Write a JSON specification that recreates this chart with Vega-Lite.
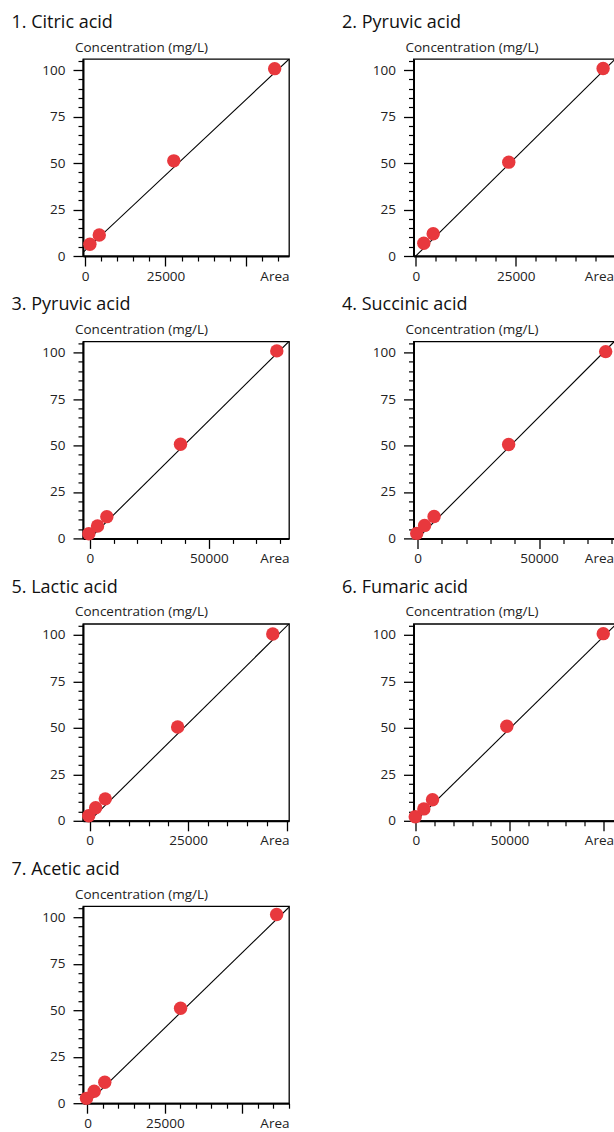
{
  "$schema": "https://vega.github.io/schema/vega-lite/v6.json",
  "padding": {"left": 10, "top": 13, "right": 0, "bottom": 0},
  "background": "white",
  "data": {"values": [
    {"panel": 1, "kind": "std", "area": 1490, "conc": 6.3},
    {"panel": 1, "kind": "std", "area": 4410, "conc": 11.3},
    {"panel": 1, "kind": "std", "area": 27580, "conc": 51.2},
    {"panel": 1, "kind": "std", "area": 58940, "conc": 100.8},
    {"panel": 1, "kind": "fit", "area": -650, "conc": 1.9},
    {"panel": 1, "kind": "fit", "area": 63400, "conc": 105.9},
    {"panel": 2, "kind": "std", "area": 2000, "conc": 6.9},
    {"panel": 2, "kind": "std", "area": 4350, "conc": 12.0},
    {"panel": 2, "kind": "std", "area": 23250, "conc": 50.5},
    {"panel": 2, "kind": "std", "area": 46850, "conc": 100.9},
    {"panel": 2, "kind": "fit", "area": -575, "conc": -1.2},
    {"panel": 2, "kind": "fit", "area": 49700, "conc": 105.6},
    {"panel": 3, "kind": "std", "area": -420, "conc": 2.5},
    {"panel": 3, "kind": "std", "area": 3240, "conc": 6.7},
    {"panel": 3, "kind": "std", "area": 7140, "conc": 11.7},
    {"panel": 3, "kind": "std", "area": 38110, "conc": 50.7},
    {"panel": 3, "kind": "std", "area": 78570, "conc": 100.9},
    {"panel": 3, "kind": "fit", "area": -2870, "conc": -3.6},
    {"panel": 3, "kind": "fit", "area": 83700, "conc": 106},
    {"panel": 4, "kind": "std", "area": -320, "conc": 2.7},
    {"panel": 4, "kind": "std", "area": 2920, "conc": 7.0},
    {"panel": 4, "kind": "std", "area": 6820, "conc": 11.8},
    {"panel": 4, "kind": "std", "area": 37500, "conc": 50.5},
    {"panel": 4, "kind": "std", "area": 77440, "conc": 100.5},
    {"panel": 4, "kind": "fit", "area": -1650, "conc": -2.2},
    {"panel": 4, "kind": "fit", "area": 81070, "conc": 106},
    {"panel": 5, "kind": "std", "area": -200, "conc": 2.7},
    {"panel": 5, "kind": "std", "area": 1560, "conc": 7.0},
    {"panel": 5, "kind": "std", "area": 4000, "conc": 11.8},
    {"panel": 5, "kind": "std", "area": 22360, "conc": 50.5},
    {"panel": 5, "kind": "std", "area": 46480, "conc": 100.5},
    {"panel": 5, "kind": "fit", "area": -1650, "conc": -3.5},
    {"panel": 5, "kind": "fit", "area": 50600, "conc": 106},
    {"panel": 6, "kind": "std", "area": -300, "conc": 2.2},
    {"panel": 6, "kind": "std", "area": 4270, "conc": 6.4},
    {"panel": 6, "kind": "std", "area": 8910, "conc": 11.3},
    {"panel": 6, "kind": "std", "area": 48560, "conc": 50.9},
    {"panel": 6, "kind": "std", "area": 100000, "conc": 100.7},
    {"panel": 6, "kind": "fit", "area": -1230, "conc": -1.2},
    {"panel": 6, "kind": "fit", "area": 106000, "conc": 105},
    {"panel": 7, "kind": "std", "area": -320, "conc": 2.6},
    {"panel": 7, "kind": "std", "area": 2170, "conc": 6.4},
    {"panel": 7, "kind": "std", "area": 5590, "conc": 11.3},
    {"panel": 7, "kind": "std", "area": 30070, "conc": 51.1},
    {"panel": 7, "kind": "std", "area": 61100, "conc": 101.5},
    {"panel": 7, "kind": "fit", "area": -1450, "conc": -2.3},
    {"panel": 7, "kind": "fit", "area": 65100, "conc": 105.5}
  ]},
  "columns": 2,
  "spacing": {"column": 124.5, "row": 85.4},
  "bounds": "flush",
  "concat": [
    {
      "width": 206, "height": 197,
      "title": {"text": "1. Citric acid", "anchor": "start", "frame": "group", "dx": -71.5, "dy": -4},
      "transform": [{"filter": "datum.panel == 1"}],
      "layer": [
        {"transform": [{"filter": "datum.kind == 'fit'"}],
         "mark": {"type": "line", "clip": true, "color": "#000", "strokeWidth": 1.1},
         "encoding": {
           "x": {"field": "area", "type": "quantitative", "scale": {"domain": [-650, 63400], "nice": false, "zero": false},
                 "axis": {"orient": "bottom", "values": [0, 25000, 50000], "labelExpr": "datum.value >= 50000 ? '' : datum.label", "format": "d", "tickSize": 10, "tickWidth": 1.3, "domainWidth": 2, "labelPadding": 14, "labelBaseline": "alphabetic", "labelFlush": false, "labelOverlap": false, "title": "Area", "titleAngle": 0, "titleX": 206, "titleY": 24, "titleAlign": "right", "titleBaseline": "alphabetic"}},
           "y": {"field": "conc", "type": "quantitative", "scale": {"domain": [0, 106], "nice": false, "zero": false},
                 "axis": {"orient": "left", "values": [0, 25, 50, 75, 100], "tickSize": 10, "tickWidth": 1.3, "domainWidth": 2, "labelPadding": 8, "labelBaseline": "middle", "title": "Concentration (mg/L)", "titleAngle": 0, "titleAlign": "left", "titleBaseline": "alphabetic", "titleX": -8.5, "titleY": -8}}
         }},
        {"transform": [{"filter": "datum.kind == 'std'"}],
         "mark": {"type": "circle", "size": 180, "color": "#e8383d", "opacity": 1},
         "encoding": {
           "x": {"field": "area", "type": "quantitative", "axis": {"orient": "bottom", "values": [5000, 10000, 15000, 20000, 30000, 35000, 40000, 45000, 55000, 60000], "tickSize": 5, "tickWidth": 1.2, "labels": false, "domain": false, "title": null}},
           "y": {"field": "conc", "type": "quantitative", "axis": {"orient": "left", "values": [5, 10, 15, 20, 30, 35, 40, 45, 55, 60, 65, 70, 80, 85, 90, 95, 105], "tickSize": 5, "tickWidth": 1.2, "labels": false, "domain": false, "title": null}}
         }}
      ],
      "resolve": {"axis": {"x": "independent", "y": "independent"}}
    },
    {
      "width": 201, "height": 197,
      "title": {"text": "2. Pyruvic acid", "anchor": "start", "frame": "group", "dx": -71.5, "dy": -4},
      "transform": [{"filter": "datum.panel == 2"}],
      "layer": [
        {"transform": [{"filter": "datum.kind == 'fit'"}],
         "mark": {"type": "line", "clip": true, "color": "#000", "strokeWidth": 1.1},
         "encoding": {
           "x": {"field": "area", "type": "quantitative", "scale": {"domain": [-575, 49700], "nice": false, "zero": false},
                 "axis": {"orient": "bottom", "values": [0, 25000], "format": "d", "tickSize": 10, "tickWidth": 1.3, "domainWidth": 2, "labelPadding": 14, "labelBaseline": "alphabetic", "labelFlush": false, "labelOverlap": false, "title": "Area", "titleAngle": 0, "titleX": 200, "titleY": 24, "titleAlign": "right", "titleBaseline": "alphabetic"}},
           "y": {"field": "conc", "type": "quantitative", "scale": {"domain": [0, 106], "nice": false, "zero": false},
                 "axis": {"orient": "left", "values": [0, 25, 50, 75, 100], "tickSize": 10, "tickWidth": 1.3, "domainWidth": 2, "labelPadding": 8, "labelBaseline": "middle", "title": "Concentration (mg/L)", "titleAngle": 0, "titleAlign": "left", "titleBaseline": "alphabetic", "titleX": -8.5, "titleY": -8}}
         }},
        {"transform": [{"filter": "datum.kind == 'std'"}],
         "mark": {"type": "circle", "size": 180, "color": "#e8383d", "opacity": 1},
         "encoding": {
           "x": {"field": "area", "type": "quantitative", "axis": {"orient": "bottom", "values": [5000, 10000, 15000, 20000, 30000, 35000, 40000, 45000], "tickSize": 5, "tickWidth": 1.2, "labels": false, "domain": false, "title": null}},
           "y": {"field": "conc", "type": "quantitative", "axis": {"orient": "left", "values": [5, 10, 15, 20, 30, 35, 40, 45, 55, 60, 65, 70, 80, 85, 90, 95, 105], "tickSize": 5, "tickWidth": 1.2, "labels": false, "domain": false, "title": null}}
         }}
      ],
      "resolve": {"axis": {"x": "independent", "y": "independent"}}
    },
    {
      "width": 206, "height": 197,
      "title": {"text": "3. Pyruvic acid", "anchor": "start", "frame": "group", "dx": -71.5, "dy": -4},
      "transform": [{"filter": "datum.panel == 3"}],
      "layer": [
        {"transform": [{"filter": "datum.kind == 'fit'"}],
         "mark": {"type": "line", "clip": true, "color": "#000", "strokeWidth": 1.1},
         "encoding": {
           "x": {"field": "area", "type": "quantitative", "scale": {"domain": [-2870, 83700], "nice": false, "zero": false},
                 "axis": {"orient": "bottom", "values": [0, 50000], "format": "d", "tickSize": 10, "tickWidth": 1.3, "domainWidth": 2, "labelPadding": 14, "labelBaseline": "alphabetic", "labelFlush": false, "labelOverlap": false, "title": "Area", "titleAngle": 0, "titleX": 206, "titleY": 24, "titleAlign": "right", "titleBaseline": "alphabetic"}},
           "y": {"field": "conc", "type": "quantitative", "scale": {"domain": [0, 106], "nice": false, "zero": false},
                 "axis": {"orient": "left", "values": [0, 25, 50, 75, 100], "tickSize": 10, "tickWidth": 1.3, "domainWidth": 2, "labelPadding": 8, "labelBaseline": "middle", "title": "Concentration (mg/L)", "titleAngle": 0, "titleAlign": "left", "titleBaseline": "alphabetic", "titleX": -8.5, "titleY": -8}}
         }},
        {"transform": [{"filter": "datum.kind == 'std'"}],
         "mark": {"type": "circle", "size": 180, "color": "#e8383d", "opacity": 1},
         "encoding": {
           "x": {"field": "area", "type": "quantitative", "axis": {"orient": "bottom", "values": [10000, 20000, 30000, 40000, 60000, 70000, 80000], "tickSize": 5, "tickWidth": 1.2, "labels": false, "domain": false, "title": null}},
           "y": {"field": "conc", "type": "quantitative", "axis": {"orient": "left", "values": [5, 10, 15, 20, 30, 35, 40, 45, 55, 60, 65, 70, 80, 85, 90, 95, 105], "tickSize": 5, "tickWidth": 1.2, "labels": false, "domain": false, "title": null}}
         }}
      ],
      "resolve": {"axis": {"x": "independent", "y": "independent"}}
    },
    {
      "width": 201, "height": 197,
      "title": {"text": "4. Succinic acid", "anchor": "start", "frame": "group", "dx": -71.5, "dy": -4},
      "transform": [{"filter": "datum.panel == 4"}],
      "layer": [
        {"transform": [{"filter": "datum.kind == 'fit'"}],
         "mark": {"type": "line", "clip": true, "color": "#000", "strokeWidth": 1.1},
         "encoding": {
           "x": {"field": "area", "type": "quantitative", "scale": {"domain": [-1650, 81070], "nice": false, "zero": false},
                 "axis": {"orient": "bottom", "values": [0, 50000], "format": "d", "tickSize": 10, "tickWidth": 1.3, "domainWidth": 2, "labelPadding": 14, "labelBaseline": "alphabetic", "labelFlush": false, "labelOverlap": false, "title": "Area", "titleAngle": 0, "titleX": 200, "titleY": 24, "titleAlign": "right", "titleBaseline": "alphabetic"}},
           "y": {"field": "conc", "type": "quantitative", "scale": {"domain": [0, 106], "nice": false, "zero": false},
                 "axis": {"orient": "left", "values": [0, 25, 50, 75, 100], "tickSize": 10, "tickWidth": 1.3, "domainWidth": 2, "labelPadding": 8, "labelBaseline": "middle", "title": "Concentration (mg/L)", "titleAngle": 0, "titleAlign": "left", "titleBaseline": "alphabetic", "titleX": -8.5, "titleY": -8}}
         }},
        {"transform": [{"filter": "datum.kind == 'std'"}],
         "mark": {"type": "circle", "size": 180, "color": "#e8383d", "opacity": 1},
         "encoding": {
           "x": {"field": "area", "type": "quantitative", "axis": {"orient": "bottom", "values": [10000, 20000, 30000, 40000, 60000, 70000, 80000], "tickSize": 5, "tickWidth": 1.2, "labels": false, "domain": false, "title": null}},
           "y": {"field": "conc", "type": "quantitative", "axis": {"orient": "left", "values": [5, 10, 15, 20, 30, 35, 40, 45, 55, 60, 65, 70, 80, 85, 90, 95, 105], "tickSize": 5, "tickWidth": 1.2, "labels": false, "domain": false, "title": null}}
         }}
      ],
      "resolve": {"axis": {"x": "independent", "y": "independent"}}
    },
    {
      "width": 206, "height": 197,
      "title": {"text": "5. Lactic acid", "anchor": "start", "frame": "group", "dx": -71.5, "dy": -4},
      "transform": [{"filter": "datum.panel == 5"}],
      "layer": [
        {"transform": [{"filter": "datum.kind == 'fit'"}],
         "mark": {"type": "line", "clip": true, "color": "#000", "strokeWidth": 1.1},
         "encoding": {
           "x": {"field": "area", "type": "quantitative", "scale": {"domain": [-1650, 50600], "nice": false, "zero": false},
                 "axis": {"orient": "bottom", "values": [0, 25000, 50000], "labelExpr": "datum.value >= 50000 ? '' : datum.label", "format": "d", "tickSize": 10, "tickWidth": 1.3, "domainWidth": 2, "labelPadding": 14, "labelBaseline": "alphabetic", "labelFlush": false, "labelOverlap": false, "title": "Area", "titleAngle": 0, "titleX": 206, "titleY": 24, "titleAlign": "right", "titleBaseline": "alphabetic"}},
           "y": {"field": "conc", "type": "quantitative", "scale": {"domain": [0, 106], "nice": false, "zero": false},
                 "axis": {"orient": "left", "values": [0, 25, 50, 75, 100], "tickSize": 10, "tickWidth": 1.3, "domainWidth": 2, "labelPadding": 8, "labelBaseline": "middle", "title": "Concentration (mg/L)", "titleAngle": 0, "titleAlign": "left", "titleBaseline": "alphabetic", "titleX": -8.5, "titleY": -8}}
         }},
        {"transform": [{"filter": "datum.kind == 'std'"}],
         "mark": {"type": "circle", "size": 180, "color": "#e8383d", "opacity": 1},
         "encoding": {
           "x": {"field": "area", "type": "quantitative", "axis": {"orient": "bottom", "values": [5000, 10000, 15000, 20000, 30000, 35000, 40000, 45000], "tickSize": 5, "tickWidth": 1.2, "labels": false, "domain": false, "title": null}},
           "y": {"field": "conc", "type": "quantitative", "axis": {"orient": "left", "values": [5, 10, 15, 20, 30, 35, 40, 45, 55, 60, 65, 70, 80, 85, 90, 95, 105], "tickSize": 5, "tickWidth": 1.2, "labels": false, "domain": false, "title": null}}
         }}
      ],
      "resolve": {"axis": {"x": "independent", "y": "independent"}}
    },
    {
      "width": 201, "height": 197,
      "title": {"text": "6. Fumaric acid", "anchor": "start", "frame": "group", "dx": -71.5, "dy": -4},
      "transform": [{"filter": "datum.panel == 6"}],
      "layer": [
        {"transform": [{"filter": "datum.kind == 'fit'"}],
         "mark": {"type": "line", "clip": true, "color": "#000", "strokeWidth": 1.1},
         "encoding": {
           "x": {"field": "area", "type": "quantitative", "scale": {"domain": [-1230, 106000], "nice": false, "zero": false},
                 "axis": {"orient": "bottom", "values": [0, 50000, 100000], "labelExpr": "datum.value >= 100000 ? '' : datum.label", "format": "d", "tickSize": 10, "tickWidth": 1.3, "domainWidth": 2, "labelPadding": 14, "labelBaseline": "alphabetic", "labelFlush": false, "labelOverlap": false, "title": "Area", "titleAngle": 0, "titleX": 200, "titleY": 24, "titleAlign": "right", "titleBaseline": "alphabetic"}},
           "y": {"field": "conc", "type": "quantitative", "scale": {"domain": [0, 106], "nice": false, "zero": false},
                 "axis": {"orient": "left", "values": [0, 25, 50, 75, 100], "tickSize": 10, "tickWidth": 1.3, "domainWidth": 2, "labelPadding": 8, "labelBaseline": "middle", "title": "Concentration (mg/L)", "titleAngle": 0, "titleAlign": "left", "titleBaseline": "alphabetic", "titleX": -8.5, "titleY": -8}}
         }},
        {"transform": [{"filter": "datum.kind == 'std'"}],
         "mark": {"type": "circle", "size": 180, "color": "#e8383d", "opacity": 1},
         "encoding": {
           "x": {"field": "area", "type": "quantitative", "axis": {"orient": "bottom", "values": [10000, 20000, 30000, 40000, 60000, 70000, 80000, 90000], "tickSize": 5, "tickWidth": 1.2, "labels": false, "domain": false, "title": null}},
           "y": {"field": "conc", "type": "quantitative", "axis": {"orient": "left", "values": [5, 10, 15, 20, 30, 35, 40, 45, 55, 60, 65, 70, 80, 85, 90, 95, 105], "tickSize": 5, "tickWidth": 1.2, "labels": false, "domain": false, "title": null}}
         }}
      ],
      "resolve": {"axis": {"x": "independent", "y": "independent"}}
    },
    {
      "width": 206, "height": 197,
      "title": {"text": "7. Acetic acid", "anchor": "start", "frame": "group", "dx": -71.5, "dy": -4},
      "transform": [{"filter": "datum.panel == 7"}],
      "layer": [
        {"transform": [{"filter": "datum.kind == 'fit'"}],
         "mark": {"type": "line", "clip": true, "color": "#000", "strokeWidth": 1.1},
         "encoding": {
           "x": {"field": "area", "type": "quantitative", "scale": {"domain": [-1450, 65100], "nice": false, "zero": false},
                 "axis": {"orient": "bottom", "values": [0, 25000, 50000], "labelExpr": "datum.value >= 50000 ? '' : datum.label", "format": "d", "tickSize": 10, "tickWidth": 1.3, "domainWidth": 2, "labelPadding": 14, "labelBaseline": "alphabetic", "labelFlush": false, "labelOverlap": false, "title": "Area", "titleAngle": 0, "titleX": 206, "titleY": 24, "titleAlign": "right", "titleBaseline": "alphabetic"}},
           "y": {"field": "conc", "type": "quantitative", "scale": {"domain": [0, 106], "nice": false, "zero": false},
                 "axis": {"orient": "left", "values": [0, 25, 50, 75, 100], "tickSize": 10, "tickWidth": 1.3, "domainWidth": 2, "labelPadding": 8, "labelBaseline": "middle", "title": "Concentration (mg/L)", "titleAngle": 0, "titleAlign": "left", "titleBaseline": "alphabetic", "titleX": -8.5, "titleY": -8}}
         }},
        {"transform": [{"filter": "datum.kind == 'std'"}],
         "mark": {"type": "circle", "size": 180, "color": "#e8383d", "opacity": 1},
         "encoding": {
           "x": {"field": "area", "type": "quantitative", "axis": {"orient": "bottom", "values": [5000, 10000, 15000, 20000, 30000, 35000, 40000, 45000, 55000, 60000, 65000], "tickSize": 5, "tickWidth": 1.2, "labels": false, "domain": false, "title": null}},
           "y": {"field": "conc", "type": "quantitative", "axis": {"orient": "left", "values": [5, 10, 15, 20, 30, 35, 40, 45, 55, 60, 65, 70, 80, 85, 90, 95, 105], "tickSize": 5, "tickWidth": 1.2, "labels": false, "domain": false, "title": null}}
         }}
      ],
      "resolve": {"axis": {"x": "independent", "y": "independent"}}
    }
  ],
  "config": {
    "font": "Open Sans",
    "view": {"stroke": "#000", "strokeWidth": 1.3},
    "axis": {"grid": false, "labelFont": "Open Sans", "titleFont": "Open Sans", "labelFontSize": 13.5, "titleFontSize": 13.5, "titleFontWeight": "normal", "labelColor": "#222", "titleColor": "#222", "tickColor": "#000", "domainColor": "#000"},
    "title": {"font": "Open Sans", "fontSize": 18, "fontWeight": "normal", "color": "#111", "offset": 4}
  }
}
